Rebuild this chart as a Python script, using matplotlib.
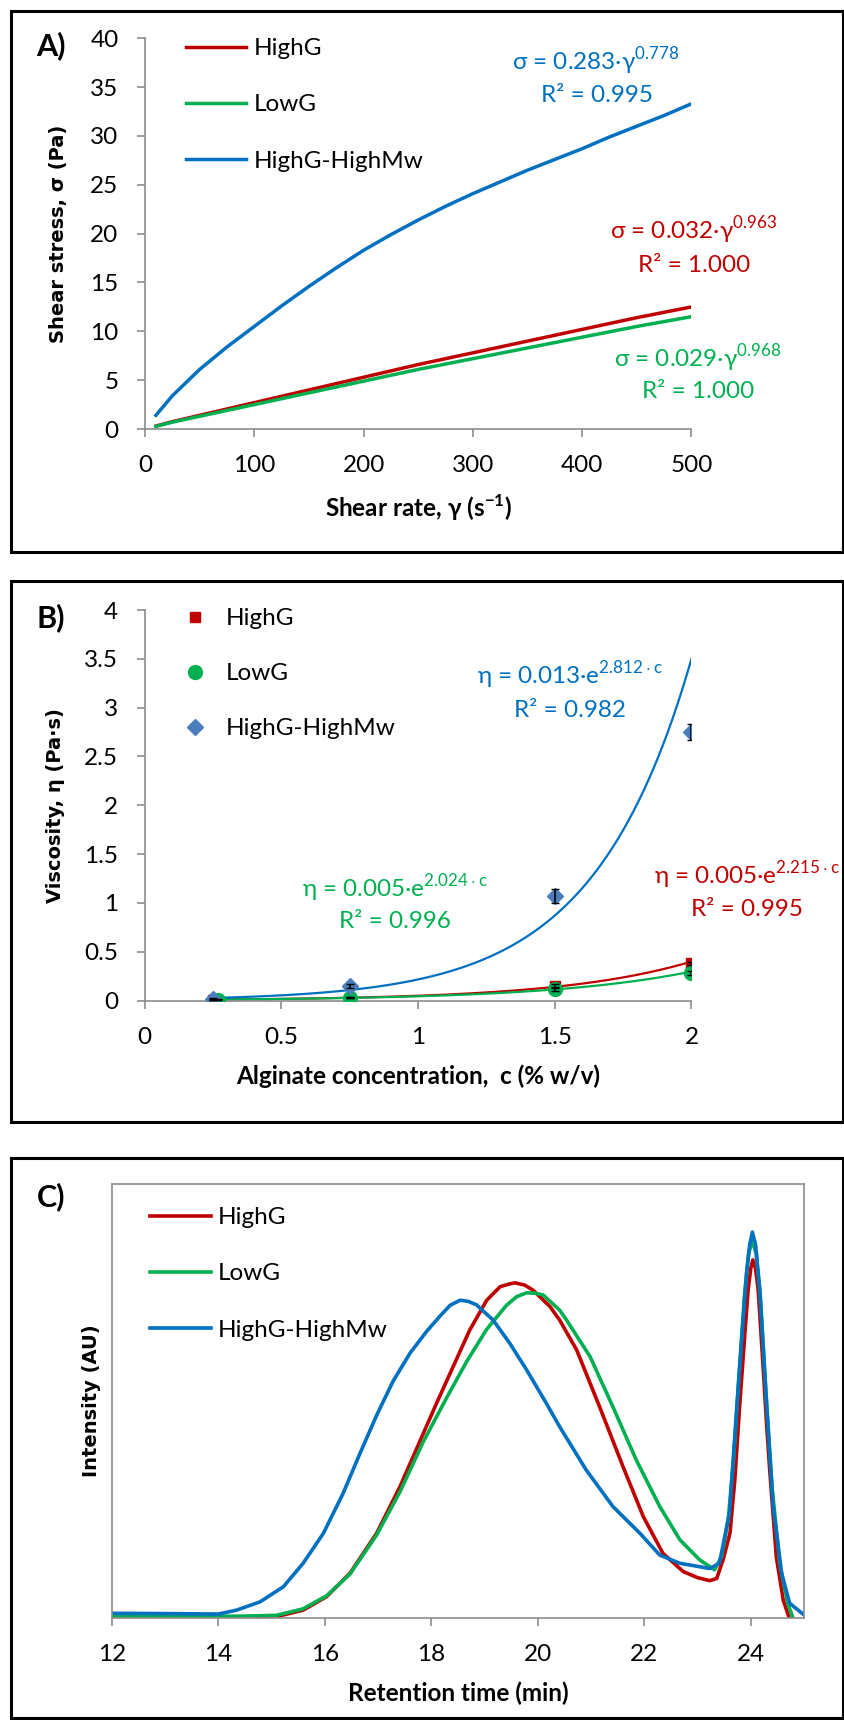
import numpy as np
import matplotlib
matplotlib.use("Agg")
import matplotlib.pyplot as plt
from matplotlib.patches import Rectangle
from matplotlib.ticker import FuncFormatter

W, H = 845, 1720
RED, GREEN, BLUE = "#C00000", "#00B050", "#0070C0"
DIAMOND = "#4A7EBB"
GREY = "#8C8C8C"

plt.rcParams["font.family"] = ["Lato", "DejaVu Sans"]
plt.rcParams["mathtext.fontset"] = "custom"
plt.rcParams["mathtext.rm"] = "Lato"
plt.rcParams["mathtext.bf"] = "Lato:bold"

# ---- panel A: flow curves ----
rate = [10, 25, 50, 75, 100, 125, 150, 175, 200, 225, 250, 275, 300, 325, 350, 375, 400, 425, 450, 475, 500]
stress_highg = [0.3, 0.75, 1.4, 2.05, 2.7, 3.35, 4.0, 4.65, 5.3, 5.95, 6.6, 7.2, 7.8, 8.4,
                9.0, 9.6, 10.2, 10.8, 11.4, 11.95, 12.5]
stress_lowg = [0.27, 0.7, 1.3, 1.9, 2.5, 3.1, 3.7, 4.3, 4.9, 5.5, 6.1, 6.65, 7.2, 7.75,
               8.3, 8.85, 9.4, 9.95, 10.5, 11.0, 11.5]
stress_hmw = [1.4, 3.4, 6.1, 8.4, 10.5, 12.6, 14.6, 16.5, 18.3, 19.9, 21.4, 22.8, 24.1, 25.3,
              26.5, 27.6, 28.7, 29.9, 31.0, 32.1, 33.3]

# ---- panel B: viscosity vs concentration ----
conc_highg = [0.25, 0.75, 1.5, 2.0]
visc_highg = [0.01, 0.03, 0.15, 0.38]
err_highg = [0.003, 0.005, 0.02, 0.02]
conc_lowg = [0.27, 0.75, 1.5, 2.0]
visc_lowg = [0.01, 0.03, 0.12, 0.28]
err_lowg = [0.003, 0.005, 0.02, 0.02]
conc_hmw = [0.25, 0.75, 1.5, 2.0]
visc_hmw = [0.02, 0.15, 1.07, 2.75]
err_hmw = [0.01, 0.02, 0.07, 0.08]

# ---- panel C: SEC chromatograms ----
t_highg = [12.0, 14.4, 15.09, 15.59, 16.03, 16.47, 16.97, 17.41, 17.85, 18.1, 18.41, 18.72, 19.04,
           19.29, 19.45, 19.57, 19.75, 19.91, 20.23, 20.41, 20.73, 21.16, 21.6, 21.98, 22.35, 22.73,
           23.0, 23.23, 23.36, 23.48, 23.61, 23.7, 23.79, 23.89, 23.95, 24.0, 24.04, 24.09, 24.14,
           24.24, 24.3, 24.36, 24.48, 24.61, 24.72, 24.85]
i_highg = [0.0, 0.0, 0.002, 0.017, 0.048, 0.102, 0.194, 0.302, 0.425, 0.495, 0.579, 0.663, 0.732,
           0.763, 0.769, 0.772, 0.767, 0.755, 0.717, 0.686, 0.617, 0.486, 0.348, 0.233, 0.148, 0.106,
           0.092, 0.085, 0.09, 0.133, 0.195, 0.317, 0.486, 0.656, 0.755, 0.805, 0.825, 0.805, 0.755,
           0.563, 0.44, 0.333, 0.14, 0.04, 0.0, -0.03]
t_lowg = [12.0, 14.4, 15.09, 15.59, 16.03, 16.47, 16.97, 17.41, 17.85, 18.3, 18.66, 19.04, 19.41,
          19.6, 19.79, 19.95, 20.1, 20.41, 20.54, 20.98, 21.41, 21.85, 22.29, 22.67, 23.04, 23.32,
          23.45, 23.58, 23.68, 23.78, 23.88, 23.96, 24.03, 24.1, 24.18, 24.28, 24.4, 24.55, 24.7, 24.85]
i_lowg = [0.003, 0.003, 0.005, 0.02, 0.05, 0.10, 0.19, 0.29, 0.406, 0.51, 0.59, 0.665, 0.72,
          0.74, 0.749, 0.748, 0.744, 0.709, 0.686, 0.602, 0.486, 0.363, 0.256, 0.179, 0.133, 0.11,
          0.14, 0.23, 0.37, 0.56, 0.74, 0.84, 0.869, 0.84, 0.74, 0.53, 0.30, 0.12, 0.03, -0.02]
t_hmw = [12.0, 13.0, 14.0, 14.34, 14.78, 15.22, 15.59, 15.97, 16.34, 16.66, 16.97, 17.28, 17.6,
         17.91, 18.16, 18.35, 18.54, 18.7, 18.85, 19.16, 19.47, 19.79, 20.16, 20.41,
         20.91, 21.41, 21.92, 22.29, 22.67, 23.0, 23.23, 23.41, 23.6, 23.76, 23.92, 23.98, 24.03,
         24.09, 24.17, 24.3, 24.42, 24.58, 24.73, 25.0]
i_hmw = [0.0097, 0.009, 0.008, 0.017, 0.036, 0.071, 0.125, 0.194, 0.286, 0.379, 0.466, 0.545, 0.61,
         0.66, 0.695, 0.72, 0.732, 0.729, 0.721, 0.686, 0.633, 0.571, 0.494, 0.44,
         0.34, 0.256, 0.194, 0.144, 0.125, 0.118, 0.113, 0.125, 0.24, 0.525, 0.794, 0.86, 0.889,
         0.86, 0.755, 0.486, 0.256, 0.102, 0.033, 0.006]

labels = ["HighG", "LowG", "HighG-HighMw"]
FS = 17.5


def fx(x):
    return x / W


def fy(y):
    return 1 - y / H


def axes_px(left, top, right, bottom):
    return fig.add_axes([fx(left), fy(bottom), (right - left) / W, (bottom - top) / H])


def style(ax, spines=("left", "bottom")):
    for s in ax.spines:
        ax.spines[s].set_visible(s in spines)
        ax.spines[s].set_color(GREY)
        ax.spines[s].set_linewidth(1.2)
    ax.tick_params(direction="out", length=6, width=1.2, color=GREY, labelsize=FS, pad=13)


def eq(x, y, s, color):
    fig.text(fx(x), fy(y), s, color=color, fontsize=FS, ha="center", va="center")


fig = plt.figure(figsize=(W / 100, H / 100), dpi=100)

# panel boxes
for top, bot in [(11, 552), (581, 1122), (1158, 1718)]:
    fig.add_artist(Rectangle((fx(11), fy(bot)), (843 - 11) / W, (bot - top) / H,
                             transform=fig.transFigure, fill=False, ec="black", lw=2.2))

gfmt = FuncFormatter(lambda v, p: "%g" % v)

# ---------- A ----------
axA = axes_px(145, 38.3, 691.5, 429)
for y, c, lab in zip([stress_highg, stress_lowg, stress_hmw], [RED, GREEN, BLUE], labels):
    axA.plot(rate, y, color=c, lw=2.5, label=lab, solid_joinstyle="round")
axA.set_xlim(0, 500)
axA.set_ylim(0, 40)
axA.set_xticks(np.arange(0, 501, 100))
axA.set_yticks(np.arange(0, 41, 5))
style(axA)
axA.set_xlabel(r"Shear rate, γ (s$^{\mathbf{-1}}$)", fontsize=FS, fontweight="bold", labelpad=12)
axA.set_ylabel("Shear stress, σ (Pa)", fontsize=14, fontweight="bold", family="DejaVu Sans", labelpad=16)
axA.legend(loc="upper left", bbox_to_anchor=(fx(186), fy(38)), bbox_transform=fig.transFigure,
           frameon=False, fontsize=FS, borderpad=0, borderaxespad=0, handlelength=2.45,
           handletextpad=0.35, labelspacing=1.45)
fig.text(fx(51), fy(46), "A)", fontsize=22, fontweight="bold", ha="center", va="center")
eq(596, 61, r"σ = 0.283·γ$^{0.778}$", BLUE)
eq(597, 95, "R² = 0.995", BLUE)
eq(694, 230, r"σ = 0.032·γ$^{0.963}$", RED)
eq(694, 265, "R² = 1.000", RED)
eq(698, 358, r"σ = 0.029·γ$^{0.968}$", GREEN)
eq(698, 391, "R² = 1.000", GREEN)

# ---------- B ----------
axB = axes_px(144.5, 610, 691.5, 1000.6)
series = [(conc_highg, visc_highg, err_highg, RED, "s", 7),
          (conc_lowg, visc_lowg, err_lowg, GREEN, "o", 10),
          (conc_hmw, visc_hmw, err_hmw, DIAMOND, "D", 8)]
line_cols = [RED, GREEN, BLUE]
for (c, v, e, col, m, ms), lab, lc in zip(series, labels, line_cols):
    c = np.array(c)
    v = np.array(v)
    # exponential trendline fitted to the points (as in the spreadsheet)
    k, b = np.polyfit(c, np.log(v), 1)
    cc = np.linspace(c.min(), c.max(), 200)
    axB.plot(cc, np.exp(b) * np.exp(k * cc), color=lc, lw=1.6, zorder=2)
    axB.plot(c, v, ls="none", marker=m, color=col, ms=ms, label=lab, zorder=3)
    axB.errorbar(c, v, yerr=e, fmt="none", ecolor="black", elinewidth=1.2, capsize=3, zorder=4)
axB.set_xlim(0, 2)
axB.set_ylim(0, 4)
axB.set_xticks(np.arange(0, 2.01, 0.5))
axB.set_yticks(np.arange(0, 4.01, 0.5))
axB.xaxis.set_major_formatter(gfmt)
axB.yaxis.set_major_formatter(gfmt)
style(axB)
axB.set_xlabel("Alginate concentration,  c (% w/v)", fontsize=FS, fontweight="bold", labelpad=12)
axB.set_ylabel("Viscosity, η (Pa·s)", fontsize=14, fontweight="bold", family="DejaVu Sans", labelpad=14)
axB.legend(loc="upper left", bbox_to_anchor=(fx(183), fy(608)), bbox_transform=fig.transFigure,
           frameon=False, fontsize=FS, borderpad=0, borderaxespad=0, handlelength=1.0,
           handletextpad=0.75, labelspacing=1.4, numpoints=1)
fig.text(fx(51), fy(618), "B)", fontsize=22, fontweight="bold", ha="center", va="center")
eq(570, 675, r"η = 0.013·e$^{2.812\cdot \mathrm{c}}$", BLUE)
eq(570, 710, "R² = 0.982", BLUE)
eq(747, 875, r"η = 0.005·e$^{2.215\cdot \mathrm{c}}$", RED)
eq(747, 909, "R² = 0.995", RED)
eq(395, 888, r"η = 0.005·e$^{2.024\cdot \mathrm{c}}$", GREEN)
eq(395, 921, "R² = 0.996", GREEN)

# ---------- C ----------
axC = axes_px(112, 1184, 804, 1617.5)
for t, i, col, lab in zip([t_highg, t_lowg, t_hmw], [i_highg, i_lowg, i_hmw], [RED, GREEN, BLUE], labels):
    axC.plot(t, i, color=col, lw=2.6, label=lab, solid_joinstyle="round")
axC.set_xlim(12, 25)
axC.set_ylim(0, 1)
axC.set_xticks(np.arange(12, 25, 2))
axC.set_yticks([])
style(axC, spines=("left", "bottom", "right", "top"))
axC.set_xlabel("Retention time (min)", fontsize=FS, fontweight="bold", labelpad=12)
axC.set_ylabel("Intensity (AU)", fontsize=14, fontweight="bold", family="DejaVu Sans", labelpad=8)
axC.legend(loc="upper left", bbox_to_anchor=(fx(150), fy(1207)), bbox_transform=fig.transFigure,
           frameon=False, fontsize=FS, borderpad=0, borderaxespad=0, handlelength=2.5,
           handletextpad=0.3, labelspacing=1.45)
fig.text(fx(51), fy(1197), "C)", fontsize=22, fontweight="bold", ha="center", va="center")

fig.savefig("out.png", dpi=100)
